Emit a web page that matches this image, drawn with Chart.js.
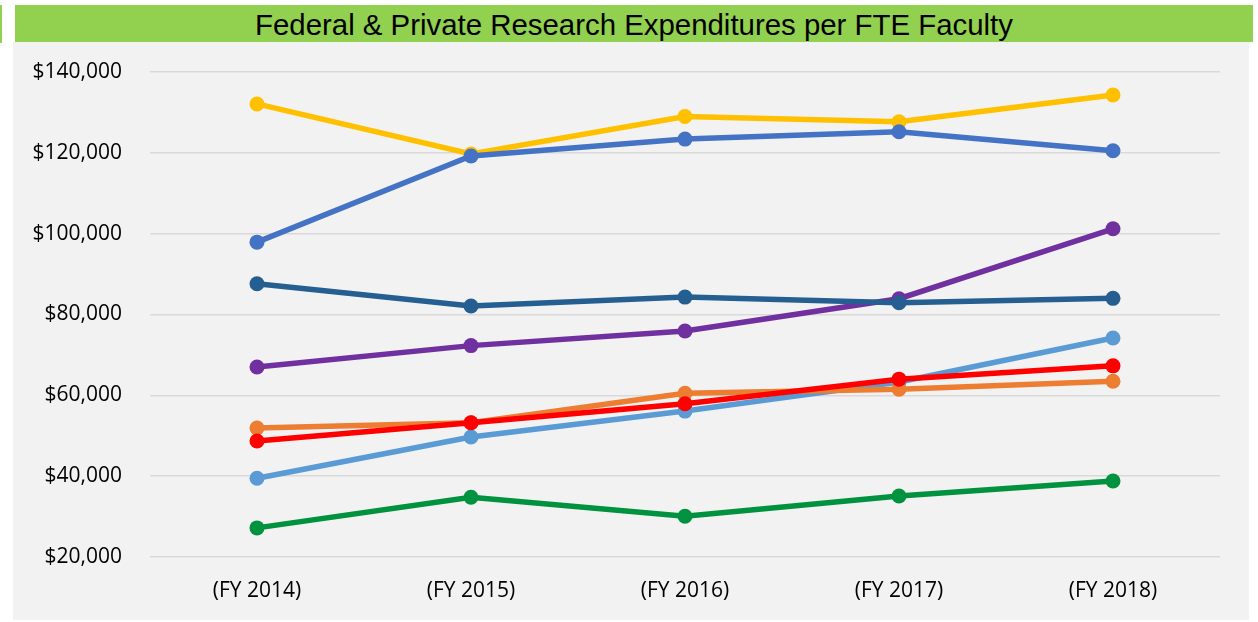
<!DOCTYPE html>
<html>
<head>
<meta charset="utf-8">
<script src="https://cdn.jsdelivr.net/npm/chart.js@4/dist/chart.umd.min.js"></script>
<style>
  html, body { margin: 0; padding: 0; background: #fff; }
  body { width: 1258px; height: 622px; position: relative; overflow: hidden; }
  #edge { position: absolute; left: 0; top: 5px; width: 2px; height: 38px; background: #92d050; }
  #panel { position: absolute; left: 13px; top: 42px; width: 1236px; height: 578px; background: #f2f2f2; }
  #title {
    position: absolute; left: 15px; top: 5px; width: 1238px; height: 37px;
    background: #92d050; color: #000;
    font-family: "Liberation Sans", Arial, sans-serif; font-size: 29.4px;
    line-height: 39px; text-align: center;
  }
</style>
</head>
<body>
<div id="edge"></div>
<div id="panel"><canvas id="chart" width="1236" height="578"></canvas></div>
<div id="title">Federal &amp; Private Research Expenditures per FTE Faculty</div>
<script>
const years = ["(FY 2014)", "(FY 2015)", "(FY 2016)", "(FY 2017)", "(FY 2018)"];

// values (no legend in the original)
const redSeries = [48700, 53200, 57900, 64000, 67300];
const greenSeries = [27200, 34800, 30100, 35100, 38800];
const darkBlueSeries = [87600, 82100, 84300, 82900, 84000];
const blueSeries = [97900, 119200, 123400, 125200, 120500];
const purpleSeries = [67000, 72300, 75900, 83900, 101200];
const orangeSeries = [51900, 53200, 60500, 61500, 63500];
const lightBlueSeries = [39500, 49700, 56100, 63300, 74200];
const yellowSeries = [132100, 119700, 129000, 127700, 134300];

const yTicks = [20000, 40000, 60000, 80000, 100000, 120000, 140000];

function line(data, color) {
  return {
    data: data,
    borderColor: color,
    backgroundColor: color,
    borderWidth: 5.5,
    pointRadius: 7.5,
    pointHoverRadius: 7.5,
    pointBorderWidth: 0,
    tension: 0,
    fill: false
  };
}

// first dataset is drawn on top
const datasets = [
  line(redSeries, "#ff0000"),
  line(greenSeries, "#00923f"),
  line(darkBlueSeries, "#255e91"),
  line(blueSeries, "#4472c4"),
  line(purpleSeries, "#7030a0"),
  line(orangeSeries, "#ed7d31"),
  line(lightBlueSeries, "#5b9bd5"),
  line(yellowSeries, "#ffc000")
];

new Chart(document.getElementById("chart"), {
  type: "line",
  data: { labels: years, datasets: datasets },
  options: {
    responsive: false,
    animation: false,
    layout: { padding: { left: 0, right: 29, top: 30, bottom: 0 } },
    plugins: { legend: { display: false }, tooltip: { enabled: false } },
    scales: {
      x: {
        offset: true,
        grid: { display: false, drawTicks: false },
        border: { display: false },
        ticks: {
          color: "#000",
          font: { family: "'Open Sans', sans-serif", size: 21 },
          padding: 21,
          maxRotation: 0
        },
        afterFit: (s) => { s.height = 63; }
      },
      y: {
        min: 20000,
        max: 140000,
        afterBuildTicks: (s) => { s.ticks = yTicks.map(v => ({ value: v })); },
        grid: { color: "#d9d9d9", lineWidth: 1.5, drawTicks: false },
        border: { display: false },
        ticks: {
          color: "#000",
          font: { family: "'Open Sans', sans-serif", size: 21 },
          padding: 28,
          callback: (v) => "$" + v.toLocaleString("en-US")
        },
        // tick padding would otherwise be added above the plot area
        afterFit: (s) => { s.width = 137; s.paddingTop = 0; s.paddingBottom = 0; }
      }
    }
  }
});
</script>
</body>
</html>
